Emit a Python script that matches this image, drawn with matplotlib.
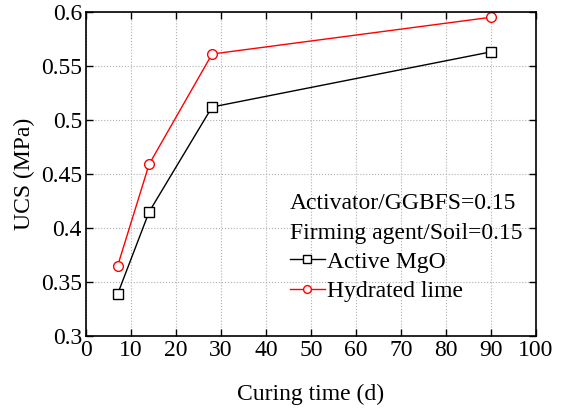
import matplotlib.pyplot as plt

# curing time (d) and UCS (MPa)
days = [7, 14, 28, 90]
ucs_mgo = [0.339, 0.415, 0.512, 0.563]
ucs_lime = [0.365, 0.459, 0.561, 0.595]

plt.rcParams["font.family"] = ["Liberation Serif", "DejaVu Serif"]

fig = plt.figure(figsize=(5.63, 4.09), dpi=100)
ax = fig.add_axes([0.153, 0.178, 0.799, 0.793])

ax.plot(days, ucs_mgo, color="black", lw=1.0, marker="s", ms=7,
        mfc="white", mec="black", mew=1.0, label="Active MgO")
ax.plot(days, ucs_lime, color="red", lw=1.0, marker="o", ms=7,
        mfc="white", mec="red", mew=1.0, label="Hydrated lime")

ax.set_xlim(0, 100)
ax.set_ylim(0.3, 0.6)
ax.set_xticks(range(0, 101, 10))
ax.set_yticks([0.3, 0.35, 0.4, 0.45, 0.5, 0.55, 0.6])
ax.set_yticklabels(["0.3", "0.35", "0.4", "0.45", "0.5", "0.55", "0.6"])
ax.tick_params(direction="in", top=True, right=True, labelsize=17,
               length=5, width=1.0, pad=3)
ax.grid(True, color="#b0b0b0", linestyle=":", linewidth=0.8)
for s in ax.spines.values():
    s.set_linewidth(1.2)

ax.set_xlabel("Curing time (d)", fontsize=17, labelpad=16)
ax.set_ylabel("UCS (MPa)", fontsize=17, labelpad=4)

# condition notes above the legend
ax.text(0.453, 0.41, "Activator/GGBFS=0.15", transform=ax.transAxes,
        fontsize=17, ha="left", va="center")
ax.text(0.453, 0.318, "Firming agent/Soil=0.15", transform=ax.transAxes,
        fontsize=17, ha="left", va="center")

ax.legend(loc="upper left", bbox_to_anchor=(0.453, 0.262),
          frameon=False, fontsize=17, handlelength=1.48,
          handletextpad=0.08, labelspacing=0.33, borderpad=0,
          borderaxespad=0, markerscale=0.8)

fig.savefig("out.png", dpi=100)
